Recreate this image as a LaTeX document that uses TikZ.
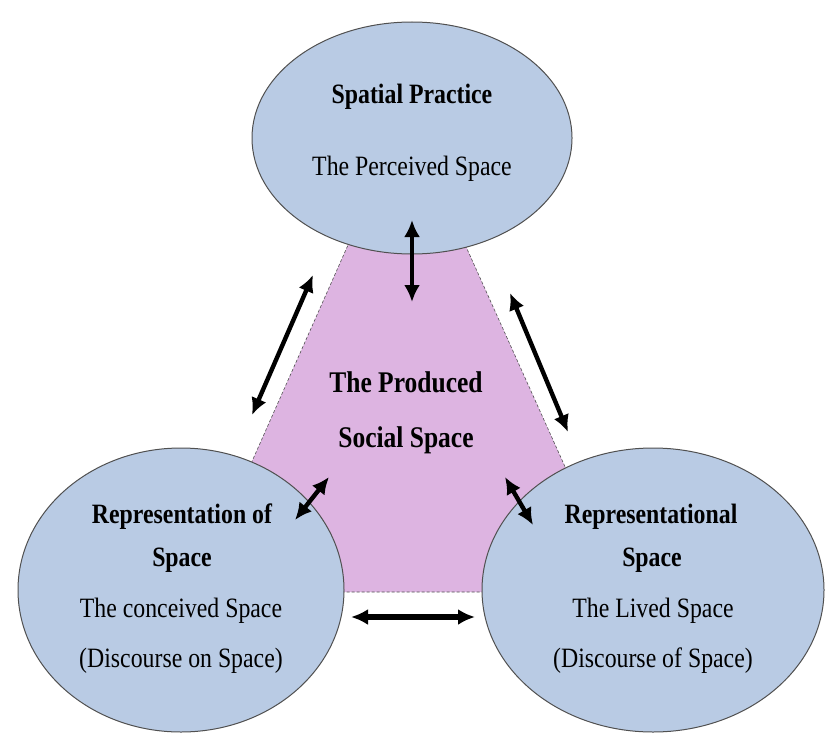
\documentclass[tikz,border=0pt]{standalone}
\usepackage{fontspec}
\setmainfont{Liberation Serif}[FakeStretch=0.85]
\usepackage{tikz}
\usetikzlibrary{shapes.geometric, arrows.meta}
\definecolor{spaceblue}{RGB}{185,203,228}
\definecolor{socialpink}{RGB}{221,180,225}
\definecolor{rimgray}{RGB}{80,80,80}

\begin{document}
\begin{tikzpicture}[x=1pt, y=-1pt,
    space/.style={ellipse, draw=rimgray, line width=1pt, fill=spaceblue, inner sep=0pt},
    head/.style={font=\fontsize{28}{34}\selectfont\bfseries, anchor=base, inner sep=0pt},
    body/.style={font=\fontsize{28}{34}\selectfont, anchor=base, inner sep=0pt},
    link/.style={{Latex[length=17pt,width=16pt]}-{Latex[length=17pt,width=16pt]}, line width=4.4pt}]
    \useasboundingbox (0,0) rectangle (837,749);

    % Produced space (behind the ellipses)
    \path[fill=socialpink, draw=rimgray, densely dashed, line width=0.6pt]
        (368,200) -- (226,520) -- (300,592) -- (530,592) -- (589,520) -- (445,200) -- cycle;

    % The three spaces
    \node[space, minimum width=320pt, minimum height=232pt] (sp) at (412,138) {};
    \node[space, minimum width=326pt, minimum height=284pt] (rs) at (181,590) {};
    \node[space, minimum width=342pt, minimum height=284pt] (rl) at (653,590) {};

    % Texts
    \node[head] (sp-h) at (412,104) {Spatial Practice};
    \node[body] (sp-b) at (412,175) {The Perceived Space};

    \node[head] (rs-h1) at (182,523) {Representation of};
    \node[head] (rs-h2) at (182,566) {Space};
    \node[body] (rs-b1) at (181,617) {The conceived Space};
    \node[body] (rs-b2) at (181,667) {(Discourse on Space)};

    \node[head] (rl-h1) at (651,523) {Representational};
    \node[head] (rl-h2) at (652,566) {Space};
    \node[body] (rl-b1) at (653,617) {The Lived Space};
    \node[body] (rl-b2) at (653,667) {(Discourse of Space)};

    \node[head, font=\fontsize{30}{36}\selectfont\bfseries] (pro-1) at (406,392) {The Produced};
    \node[head, font=\fontsize{30}{36}\selectfont\bfseries] (pro-2) at (406,447) {Social Space};

    % Arrow ends
    \coordinate (sp-o) at (412,220);  \coordinate (pro-n) at (412,302);
    \coordinate (sp-sw) at (313,275); \coordinate (rs-nw) at (252,415);
    \coordinate (sp-se) at (510,293); \coordinate (rl-ne) at (568,432);
    \coordinate (pro-sw) at (329,477); \coordinate (rs-o) at (295,520);
    \coordinate (pro-se) at (505,477); \coordinate (rl-o) at (533,525);
    \coordinate (rs-e) at (351,617); \coordinate (rl-w) at (475,617);

    % Dialectic links
    \foreach \a/\b in {sp-o/pro-n, sp-sw/rs-nw, sp-se/rl-ne, pro-sw/rs-o, pro-se/rl-o} {
        \draw[link] (\a) -- (\b);
    }
    \draw[link, line width=6pt] (rs-e) -- (rl-w);
\end{tikzpicture}
\end{document}
